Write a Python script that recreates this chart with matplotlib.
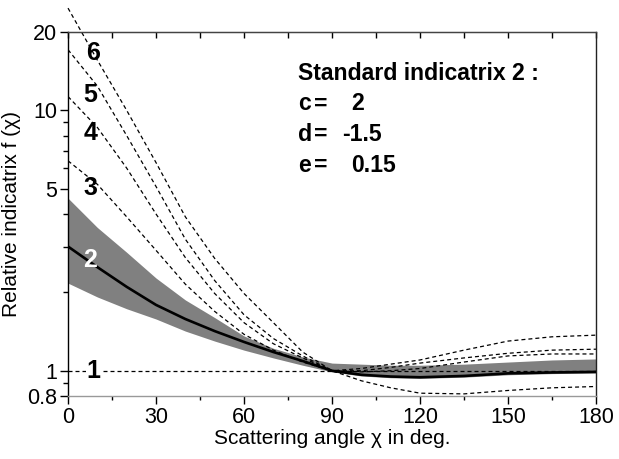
import numpy as np
import matplotlib
matplotlib.use('Agg')
import matplotlib.pyplot as plt
from matplotlib.ticker import FixedLocator, NullFormatter

plt.rcParams['font.family'] = ['Liberation Sans', 'DejaVu Sans']

# scattering angle (deg) at which the curves were read
chi = [0, 10, 20, 30, 40, 50, 60, 70, 80, 90, 100, 110, 120, 135, 150, 165, 180]

# curve 2: standard indicatrix (solid) and its shaded spread
f2 = [3.0, 2.5, 2.1, 1.79, 1.58, 1.42, 1.29, 1.18, 1.09, 1.0, 0.965, 0.95, 0.944, 0.955, 0.977, 0.985, 0.99]
band_hi = [4.6, 3.55, 2.85, 2.27, 1.87, 1.6, 1.36, 1.22, 1.13, 1.07, 1.06, 1.05, 1.05, 1.06, 1.08, 1.10, 1.11]
band_lo = [2.17, 1.92, 1.73, 1.58, 1.42, 1.30, 1.20, 1.12, 1.05, 0.99, 0.955, 0.94, 0.935, 0.945, 0.965, 0.975, 0.98]

# dashed curves
f1 = [1.0] * len(chi)
f3 = [6.4, 5.2, 3.9, 2.9, 2.15, 1.69, 1.38, 1.2, 1.08, 1.0, 0.99, 1.0, 1.02, 1.08, 1.14, 1.16, 1.16]
f4 = [11.3, 8.6, 6.0, 4.0, 2.72, 1.98, 1.53, 1.27, 1.12, 1.0, 1.0, 1.03, 1.07, 1.12, 1.167, 1.2, 1.21]
f5 = [17.1, 12.4, 8.0, 5.1, 3.2, 2.22, 1.64, 1.33, 1.14, 1.0, 1.02, 1.06, 1.10, 1.20, 1.30, 1.35, 1.37]
f6 = [24.7, 15.6, 10.0, 6.3, 3.9, 2.7, 1.98, 1.53, 1.18, 1.0, 0.915, 0.86, 0.82, 0.815, 0.84, 0.86, 0.87]

labels = ['1', '3', '4', '5', '6']
label_x = [8.6, 7.7, 7.7, 7.7, 8.5]
label_y = [1.0, 5.03, 8.2, 11.5, 16.6]

yticks = [0.8, 1, 5, 10, 20]
yminor = [0.9, 2, 3, 4, 6, 7, 8, 9]

fig = plt.figure(figsize=(6.19, 4.59), dpi=100)
ax = fig.add_axes([0.1099, 0.1373, 0.8530, 0.7930])

ax.fill_between(chi, band_lo, band_hi, color='#808080', lw=0, zorder=1)
ax.plot(chi, f2, color='black', lw=1.9, zorder=3)

dash = (0, (3.2, 2.4))
for f in [f1, f3, f4, f5]:
    ax.plot(chi, f, color='black', lw=0.9, linestyle=dash, zorder=2)
ax.plot(chi, f6, color='black', lw=0.9, linestyle=dash, zorder=2, clip_on=False)

ax.set_yscale('log')
ax.set_xlim(0, 180)
ax.set_ylim(0.8, 20)

ax.yaxis.set_major_locator(FixedLocator(yticks))
ax.yaxis.set_minor_locator(FixedLocator(yminor))
ax.yaxis.set_minor_formatter(NullFormatter())
ax.set_yticklabels(['0.8', '1', '5', '10', '20'])
ax.set_xticks(np.arange(0, 181, 30))
ax.set_xticks(np.arange(15, 181, 30), minor=True)

ax.tick_params(axis='both', which='major', direction='out', length=6, width=1,
               labelsize=15.5, pad=2)
ax.tick_params(axis='both', which='minor', direction='out', length=3.5, width=1)
ax.tick_params(axis='x', which='minor', length=3)

top = ax.secondary_xaxis('top')
top.set_xticks(np.arange(0, 181, 15))
top.tick_params(direction='in', length=4, width=1, labeltop=False)
top.spines['top'].set_color('#444444')

ax.spines['left'].set_color('black')
ax.spines['right'].set_color('#222222')
ax.spines['bottom'].set_color('#999999')
ax.spines['top'].set_color('#444444')
for s in ax.spines.values():
    s.set_linewidth(1)

ax.set_xlabel('Scattering angle \u03c7 in deg.', fontsize=15, labelpad=1)
ax.set_ylabel('Relative indicatrix f (\u03c7)', fontsize=15, labelpad=4)

for t, x, y in zip(labels, label_x, label_y):
    kw = {}
    if t == '1':
        kw = dict(bbox=dict(facecolor='white', edgecolor='none', pad=0.5))
    ax.text(x, y, t, fontsize=18, fontweight='bold', ha='center', va='center', zorder=4, **kw)
ax.text(7.5, 2.66, '2', fontsize=18, fontweight='bold', color='white', ha='center', va='center', zorder=4)

# parameter box
tx = fig.transFigure
W, H = 619, 459
ax.text(298 / W, 1 - 73 / H, 'Standard indicatrix 2 :', transform=tx, fontsize=16.6,
        fontweight='bold', ha='left', va='center')
rows = [('c', '2', 351), ('d', '-1.5', 342), ('e', '0.15', 351)]
for i, (name, val, vx) in enumerate(rows):
    y = 1 - (104 + 30.5 * i) / H
    ax.text(298 / W, y, name, transform=tx, fontsize=16.6, fontweight='bold', ha='left', va='center')
    ax.text(314 / W, y, '=', transform=tx, fontsize=16.6, fontweight='bold', ha='left', va='center')
    ax.text(vx / W, y, val, transform=tx, fontsize=16.6, fontweight='bold', ha='left', va='center')

fig.savefig('out.png', dpi=100)
